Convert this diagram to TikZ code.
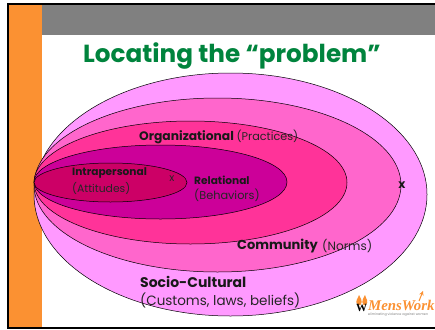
\documentclass[tikz,border=0pt]{standalone}
\usepackage{fontspec}
\setmainfont{Poppins}
\newfontfamily\logofont{Liberation Serif}
\usetikzlibrary{shapes.geometric}
\definecolor{framegray}{HTML}{808080}
\definecolor{barorange}{HTML}{FB9132}
\definecolor{titlegreen}{HTML}{00843D}
\definecolor{ringa}{HTML}{FF99FF}
\definecolor{ringb}{HTML}{FF66CC}
\definecolor{ringc}{HTML}{FF3399}
\definecolor{ringd}{HTML}{CC0099}
\definecolor{ringe}{HTML}{CC0066}
\tikzset{
    ring/.style={ellipse, draw=black, line width=0.5pt, inner sep=0pt},
    lbl/.style={anchor=west, inner sep=0pt, align=left}
}
\newcommand{\hd}[2]{{\fontsize{#1}{#1}\selectfont\bfseries\color{black!90}#2}}
\newcommand{\pn}[2]{{\fontsize{#1}{#1}\selectfont\color{black!85}#2}}
\begin{document}
\begin{tikzpicture}[x=1pt, y=-1pt]
    \useasboundingbox (0, 0) rectangle (435, 329);
    \fill[white] (0, 0) rectangle (435, 329);
    \fill[barorange] (8, 4) rectangle (42, 328);
    \fill[framegray] (42, 4) rectangle (435, 35);
    \draw[line width=1.8pt] (435, 4) -- (8, 4) -- (8, 328) -- (435, 328);

    \node[anchor=base west, inner sep=0pt, text=titlegreen, font=\fontsize{24.7}{25}\selectfont\bfseries] (title) at (83, 62) {Locating the “problem”};

    \node[ring, fill=ringa, minimum width=393pt, minimum height=243pt] (sociocultural) at (230.5, 194.5) {};
    \node[ring, fill=ringb, minimum width=367pt, minimum height=174pt] (community) at (217.5, 185) {};
    \node[ring, fill=ringc, minimum width=313pt, minimum height=123pt] (organizational) at (190.5, 182.5) {};
    \node[ring, fill=ringd, minimum width=253pt, minimum height=74pt] (relational) at (160.5, 182) {};
    \node[ring, fill=ringe, minimum width=153pt, minimum height=39pt] (intrapersonal) at (110.5, 182.5) {};

    \node[lbl] (orgtext) at (139, 137) {\hd{12.3}{Organizational} \pn{11.2}{(Practices)}};
    \node[lbl] (intratext) at (72, 173) {\hd{10.6}{Intrapersonal}};
    \node[lbl] (attitudes) at (72, 188) {\pn{10.8}{(Attitudes)}};
    \node[lbl] (reltext) at (194, 180) {\hd{10.6}{Relational}};
    \node[lbl] (behaviors) at (194, 195) {\pn{11.3}{(Behaviors)}};
    \node[lbl] (commtext) at (237, 246) {\hd{13}{Community}};
    \node[lbl] (norms) at (322, 246.5) {\pn{12}{(Norms)}};
    \node[lbl] (socitext) at (140, 282) {\hd{14}{Socio-Cultural}};
    \node[lbl] (customs) at (140, 300) {\pn{13.5}{(Customs, laws, beliefs)}};
    \node[inner sep=0pt] (xinner) at (172, 178.5) {\pn{10.5}{x}};
    \node[inner sep=0pt] (xouter) at (402, 185.5) {\hd{12}{x}};

    % logo
    \fill[barorange] (358, 305) .. controls (354, 301) and (358, 299) .. (359, 295) .. controls (361, 299) and (363, 301) .. (360.5, 305) -- cycle;
    \fill[barorange] (363.5, 305) .. controls (361, 301) and (363, 299) .. (365, 295) .. controls (366, 299) and (369, 301) .. (366, 305) -- cycle;
    \node[inner sep=0pt, font=\logofont\fontsize{11}{11}\selectfont\bfseries] (logomark) at (361.5, 307.5) {W};
    \node[anchor=base west, inner sep=0pt, text=barorange, font=\logofont\fontsize{14.8}{15}\selectfont\bfseries\itshape] (logoname) at (368, 310) {MensWork};
    \coordinate (tipstart) at (419, 301);
    \coordinate (tipend) at (423, 291);
    \draw[barorange, line width=1pt, -stealth] (tipstart) -- (tipend);
    \node[anchor=base west, inner sep=0pt, text=black!50, font=\fontsize{3.3}{4}\selectfont] (logotag) at (368, 315) {eliminating violence against women};
\end{tikzpicture}
\end{document}
